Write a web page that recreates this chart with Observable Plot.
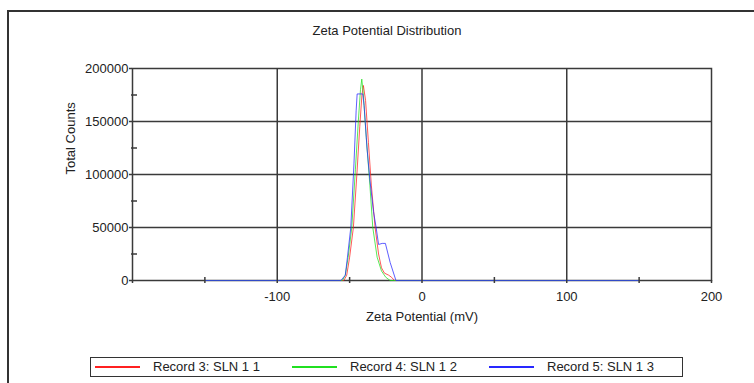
<!DOCTYPE html>
<html><head><meta charset="utf-8">
<script src="https://cdn.jsdelivr.net/npm/d3@7"></script>
<script src="https://cdn.jsdelivr.net/npm/@observablehq/plot@0.6"></script>
<style>
html,body{margin:0;padding:0;background:#fff;overflow:hidden;font-family:"Liberation Sans",Arial,sans-serif;}
#page{position:relative;width:754px;height:383px;overflow:hidden;background:#fff;}
#frame{position:absolute;left:7px;top:10px;width:1000px;height:500px;border-left:2px solid #333;border-top:2px solid #333;box-sizing:border-box;}
#title{position:absolute;left:0;width:774px;top:23px;text-align:center;font-size:13px;color:#222;}
#chart{position:absolute;left:0;top:0;}
#legend{position:absolute;left:90px;top:357px;width:593px;height:20px;border:1px solid #333;box-sizing:border-box;display:flex;align-items:center;font-size:13px;color:#222;}
.item{position:relative;width:206px;height:18px;}
.sw{position:absolute;left:4px;top:8px;width:45px;height:1.5px;}
.lab{position:absolute;left:62px;top:1px;white-space:nowrap;}
</style></head>
<body>
<div id="page">
  <div id="frame"></div>
  <div id="title"></div>
  <div id="chart"></div>
  <div id="legend"></div>
</div>
<script>
const titleText = "Zeta Potential Distribution";
const xLabel = "Zeta Potential (mV)";
const yLabel = "Total Counts";
const seriesNames = ["Record 3: SLN 1 1", "Record 4: SLN 1 2", "Record 5: SLN 1 3"];
const seriesColors = ["#ff2020", "#20e020", "#2828ff"];

const xMajorTicks = [-200, -100, 0, 100, 200];
const xMinorTicks = [-150, -50, 50, 150];
const xGrid = [-100, 0, 100];
const yMajorTicks = [0, 50000, 100000, 150000, 200000];
const yMinorTicks = [25000, 75000, 125000, 175000];
const yGrid = [50000, 100000, 150000];

const record3 = [[-150,0],[-54,0],[-52,5000],[-50,22000],[-47.4,50000],[-45,100000],[-43,145000],[-41.5,175000],[-40.5,184000],[-39,170000],[-37,130000],[-35,90000],[-32.4,50000],[-30,25000],[-28,12000],[-26,7000],[-23,5000],[-21,3000],[-19,0],[150,0]];
const record4 = [[-150,0],[-55,0],[-53,5000],[-51,22000],[-48.5,50000],[-46,105000],[-44,150000],[-42.5,180000],[-41.6,190000],[-40.5,175000],[-38.5,135000],[-36,90000],[-34,50000],[-31,22000],[-28,9000],[-25,3000],[-22,0],[150,0]];
const record5 = [[-150,0],[-56,0],[-53,5000],[-51.5,22000],[-49.2,50000],[-47,110000],[-45.5,160000],[-44.8,176000],[-40.9,176000],[-40,165000],[-38,125000],[-36,95000],[-33.5,65000],[-31.7,50000],[-30,34000],[-27.5,35000],[-25.3,35000],[-22,17000],[-18,0],[150,0]];

const allSeries = [record3, record4, record5];
const rows = allSeries.flatMap((s, i) => s.map(([x, y]) => ({x, y, series: seriesNames[i]})));

document.getElementById("title").textContent = titleText;

const fmt = d => (d === -200 ? "" : String(d));
const gridColor = "#3a3a3a";

const chart = Plot.plot({
  width: 754,
  height: 340,
  marginLeft: 132,
  marginRight: 43,
  marginTop: 68,
  marginBottom: 60,
  style: {fontFamily: "Liberation Sans, Arial, sans-serif", fontSize: "13px", color: "#222", background: "transparent"},
  x: {domain: [-200, 200]},
  y: {domain: [0, 200000]},
  color: {domain: seriesNames, range: seriesColors},
  marks: [
    Plot.gridX(xGrid, {stroke: gridColor, strokeOpacity: 1, strokeWidth: 1.5}),
    Plot.gridY(yGrid, {stroke: gridColor, strokeOpacity: 1, strokeWidth: 1.5}),
    Plot.frame({stroke: gridColor, strokeWidth: 1.5}),
    Plot.line(rows, {x: "x", y: "y", z: "series", stroke: "series", strokeWidth: 1, strokeOpacity: 0.75}),
    Plot.axisX({ticks: xMajorTicks, tickSize: 3, tickPadding: 8, tickFormat: fmt, label: null, stroke: gridColor, strokeWidth: 1.5}),
    Plot.axisX({ticks: xMinorTicks, tickSize: 6, dy: -3, tickFormat: () => "", label: null, stroke: gridColor, strokeWidth: 1.5}),
    Plot.axisY({ticks: yMajorTicks, tickSize: 3, tickPadding: 1, tickFormat: d => String(d), label: null, stroke: gridColor, strokeWidth: 1.5}),
    Plot.axisY({ticks: yMinorTicks, tickSize: 6, dx: 5, tickFormat: () => "", label: null, stroke: gridColor, strokeWidth: 1.5}),
    Plot.text([xLabel], {text: d => d, frameAnchor: "bottom", dy: 40, fontSize: 13, fill: "#222"}),
    Plot.text([yLabel], {text: d => d, frameAnchor: "left", dx: -62, rotate: -90, fontSize: 13, fill: "#222"})
  ]
});
document.getElementById("chart").appendChild(chart);

const legend = document.getElementById("legend");
seriesNames.forEach((name, i) => {
  const item = document.createElement("div");
  item.className = "item";
  const sw = document.createElement("div");
  sw.className = "sw";
  sw.style.background = seriesColors[i];
  const lab = document.createElement("div");
  lab.className = "lab";
  lab.textContent = name;
  item.appendChild(sw);
  item.appendChild(lab);
  legend.appendChild(item);
});
</script>
</body></html>
